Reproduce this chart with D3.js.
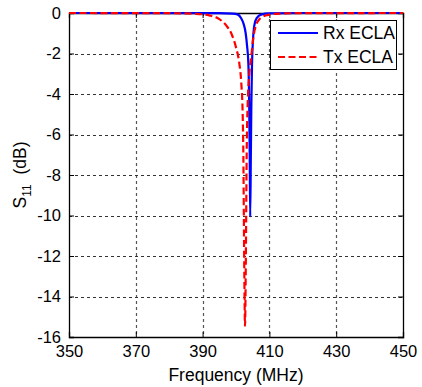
<!DOCTYPE html>
<html>
<head>
<meta charset="utf-8">
<script src="https://cdn.jsdelivr.net/npm/d3@7"></script>
<style>
  body { margin: 0; background: #fff; }
  svg { font-family: "Liberation Sans", Arial, sans-serif; }
</style>
</head>
<body>
<div id="chart"></div>
<script>
// data
const xTicks = [350, 370, 390, 410, 430, 450];
const yTicks = [0, -2, -4, -6, -8, -10, -12, -14, -16];

const rxFreq = [350, 395, 399, 400.6, 401.5, 402.3, 402.9, 403.3, 403.7, 403.95, 404.1, 404.25,
                404.45, 404.6, 404.8, 405.1, 405.5, 406.2, 407.5, 410, 420, 450];
const rxS11  = [0, -0.01, -0.03, -0.08, -0.25, -0.55, -1.0, -1.6, -2.5, -4.5, -7, -10.05,
                -7, -4.5, -2.5, -1.3, -0.6, -0.25, -0.08, -0.02, 0, 0];

const txFreq = [350, 380, 388, 392, 395, 397, 398.7, 400, 401, 401.6, 402, 402.2, 402.35, 402.5, 402.7,
                402.9, 403.05, 403.2, 403.5, 404.0, 404.6, 405.2, 406, 406.8, 408, 410, 413, 418, 450];
const txS11  = [0, -0.01, -0.04, -0.12, -0.3, -0.6, -1.05, -1.7, -2.5, -3.5, -5, -7, -10, -13, -15.45,
                -13, -10, -7, -4.5, -3, -2.1, -1.2, -0.6, -0.35, -0.18, -0.08, -0.03, -0.01, 0];

const width = 422, height = 387;
const margin = {left: 69, right: 19, top: 13, bottom: 50};

const svg = d3.select("#chart").append("svg")
    .attr("width", width)
    .attr("height", height);

const x = d3.scaleLinear().domain([350, 450]).range([margin.left, width - margin.right]);
const y = d3.scaleLinear().domain([-16, 0]).range([height - margin.bottom, margin.top]);

const x0 = x.range()[0], x1 = x.range()[1];
const y0 = y.range()[0], y1 = y.range()[1];

// grid
const grid = svg.append("g");
grid.selectAll(".vg").data(xTicks.slice(1, -1)).join("line")
    .attr("x1", d => Math.round(x(d)) + 0.5).attr("x2", d => Math.round(x(d)) + 0.5)
    .attr("y1", y1).attr("y2", y0)
    .attr("stroke", "#555").attr("stroke-width", 1.2).attr("stroke-dasharray", "3,3");
grid.selectAll(".hg").data(yTicks.slice(1, -1)).join("line")
    .attr("y1", d => Math.round(y(d)) + 0.5).attr("y2", d => Math.round(y(d)) + 0.5)
    .attr("x1", x0).attr("x2", x1)
    .attr("stroke", "#333").attr("stroke-width", 1).attr("stroke-dasharray", "3,3");

// axes with inward ticks, plain hyphen minus like matlab
const fmt = d => String(d);
svg.append("g").attr("transform", `translate(0,${y0})`)
    .call(d3.axisBottom(x).tickValues(xTicks).tickSize(-5).tickPadding(8).tickFormat(fmt));
svg.append("g").attr("transform", `translate(${x0},0)`)
    .call(d3.axisLeft(y).tickValues(yTicks).tickSize(-5).tickPadding(8).tickFormat(fmt));
svg.append("g").attr("transform", `translate(0,${y1})`)
    .call(d3.axisTop(x).tickValues(xTicks).tickSize(-5).tickFormat(""));
svg.append("g").attr("transform", `translate(${x1},0)`)
    .call(d3.axisRight(y).tickValues(yTicks).tickSize(-5).tickFormat(""));

svg.selectAll(".domain").attr("stroke", "#000").attr("stroke-width", 1.3);
svg.selectAll(".tick line").attr("stroke", "#000");
svg.selectAll(".tick text").attr("font-size", 16.5).attr("fill", "#000")
    .attr("font-family", "Liberation Sans, Arial, sans-serif");

// curves
svg.append("clipPath").attr("id", "clip").append("rect")
    .attr("x", x0).attr("y", y1 - 2).attr("width", x1 - x0).attr("height", y0 - y1 + 2);

const line = d3.line().x(d => x(d[0])).y(d => y(d[1])).curve(d3.curveMonotoneX);
const plot = svg.append("g").attr("clip-path", "url(#clip)");

plot.append("path").datum(d3.zip(rxFreq, rxS11))
    .attr("d", line).attr("fill", "none")
    .attr("stroke", "#0000ff").attr("stroke-width", 2.2);
plot.append("path").datum(d3.zip(txFreq, txS11))
    .attr("d", line).attr("fill", "none")
    .attr("stroke", "#ff0000").attr("stroke-width", 2.2).attr("stroke-dasharray", "7,3.5");

// legend
const lg = svg.append("g");
lg.append("rect").attr("x", 270.5).attr("y", 20.5).attr("width", 126).attr("height", 49)
    .attr("fill", "#fff").attr("stroke", "#000").attr("stroke-width", 1);
const items = [["Rx ECLA", "#0000ff", null], ["Tx ECLA", "#ff0000", "7,3.5"]];
items.forEach((it, i) => {
    const yy = 33 + i * 24;
    lg.append("line").attr("x1", 278).attr("x2", 318).attr("y1", yy).attr("y2", yy)
        .attr("stroke", it[1]).attr("stroke-width", 2.2)
        .attr("stroke-dasharray", it[2]);
    lg.append("text").attr("x", 323).attr("y", yy).attr("dy", "0.36em")
        .attr("font-size", 17.5).text(it[0]);
});

// axis labels
svg.append("text").attr("x", (x0 + x1) / 2).attr("y", 381)
    .attr("text-anchor", "middle").attr("font-size", 17.5).text("Frequency (MHz)");

const yl = svg.append("text")
    .attr("transform", `translate(26,${(y0 + y1) / 2}) rotate(-90)`)
    .attr("text-anchor", "middle").attr("font-size", 17.5);
yl.append("tspan").text("S");
yl.append("tspan").attr("font-size", 12).attr("dy", 5).text("11");
yl.append("tspan").attr("dy", -5).text("\u00a0\u00a0(dB)");
</script>
</body>
</html>
